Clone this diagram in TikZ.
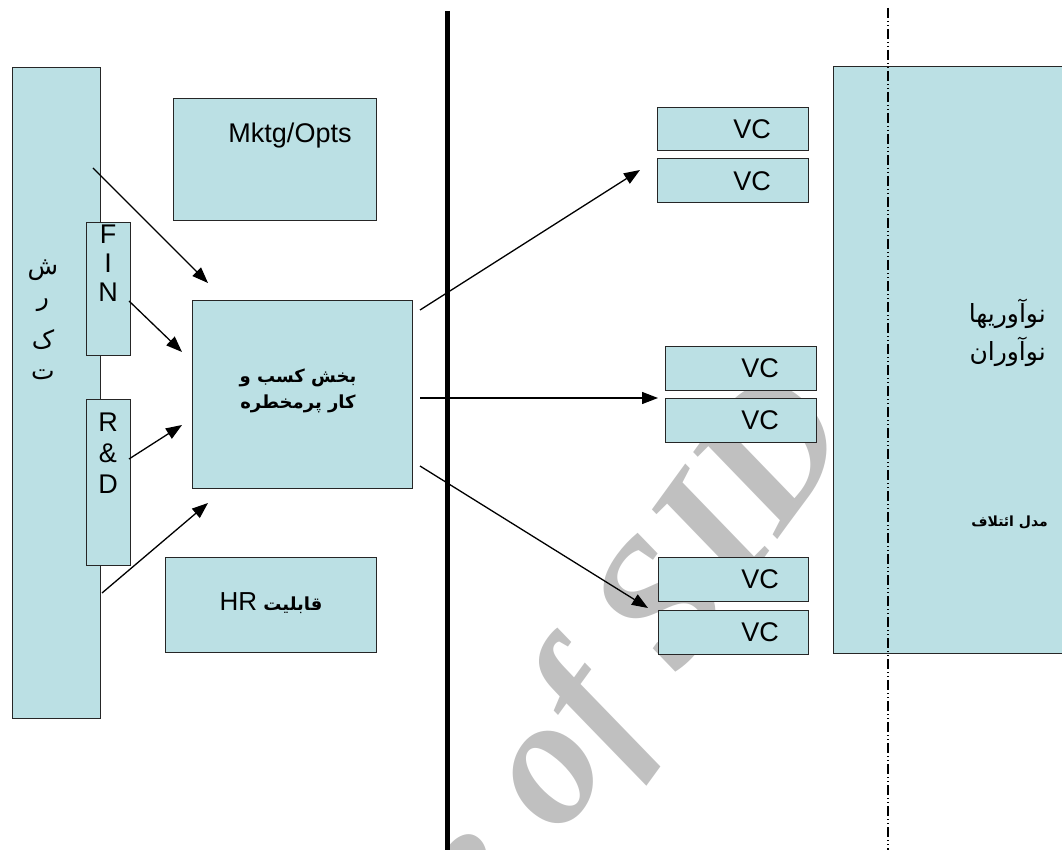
\documentclass[tikz,border=0pt]{standalone}
\usepackage{fontspec}
\setmainfont{Liberation Sans}
\newfontfamily\arabicfont[Script=Arabic]{DejaVu Sans}
\newfontfamily\markfont{Liberation Serif}
\TeXXeTstate=1
\usetikzlibrary{arrows.meta}
\definecolor{boxfill}{RGB}{187,224,228}
\definecolor{markgray}{RGB}{192,192,192}

\begin{document}
\begin{tikzpicture}[x=1pt,y=-1pt,
  blk/.style={draw=black!85, line width=1.4pt, fill=boxfill, inner sep=0pt, anchor=north west},
  link/.style={line width=1.3pt, -{Triangle[length=16pt,width=12pt]}},
  lbl/.style={font=\fontsize{27}{31}\selectfont, inner sep=0pt},
  arab/.style={font=\arabicfont\fontsize{25}{29}\selectfont, inner sep=0pt},
  arabb/.style={font=\arabicfont\bfseries\fontsize{18}{22}\selectfont, inner sep=0pt},
  divider/.style={line width=5pt},
  guide/.style={line width=1.6pt, dash pattern=on 10pt off 3pt on 1pt off 3pt on 1pt off 3pt}
]
\useasboundingbox (0,0) rectangle (1062,850);

% faint stamp in the background
\node[rotate=54, anchor=base east, inner sep=0pt, text=markgray,
      font=\markfont\bfseries\itshape\fontsize{182}{182}\selectfont] (stamp) at (856,432) {Archive of SID};

% firm column and its units
\node[blk, minimum width=88, minimum height=651] (firm) at (12,67) {};
\node[arab] (firm1) at (43,270) {ش};
\node[arab] (firm2) at (43,305) {ر};
\node[arab] (firm3) at (43,340) {ک};
\node[arab] (firm4) at (43,375) {ت};

\node[blk, minimum width=44, minimum height=133] (fin) at (86,222) {};
\node[lbl] (fin1) at (108,234) {F};
\node[lbl] (fin2) at (108,263) {I};
\node[lbl] (fin3) at (108,292) {N};

\node[blk, minimum width=44, minimum height=166] (rnd) at (86,399) {};
\node[lbl] (rnd1) at (108,422) {R};
\node[lbl] (rnd2) at (108,453) {\&};
\node[lbl] (rnd3) at (108,484) {D};

\node[blk, minimum width=203, minimum height=122] (mktg) at (173,98) {};
\node[lbl] (mktgt) at (290,136) {Mktg/Opts};

\node[blk, minimum width=220, minimum height=188] (core) at (192,300) {};
\node[arabb] (core1) at (298,378) {\beginR بخش کسب و\endR};
\node[arabb] (core2) at (298,404) {\beginR کار پرمخطره\endR};

\node[blk, minimum width=211, minimum height=95] (hr) at (165,557) {};
\node[arabb] (hrt) at (271,603) {\beginR قابلیت \beginL\fontspec{Liberation Sans}\mdseries\fontsize{26}{30}\selectfont HR\endL\endR};

% dividing line
\coordinate (divtop) at (447,11);
\coordinate (divbot) at (447,852);
\draw[divider] (divtop) -- (divbot);

% venture capital boxes
\node[blk, minimum width=151, minimum height=43] (vc1) at (657,107) {};
\node[lbl] (vc1t) at (752,129) {VC};
\node[blk, minimum width=151, minimum height=44] (vc2) at (657,158) {};
\node[lbl] (vc2t) at (752,181) {VC};
\node[blk, minimum width=151, minimum height=44] (vc3) at (665,346) {};
\node[lbl] (vc3t) at (760,368) {VC};
\node[blk, minimum width=151, minimum height=44] (vc4) at (665,398) {};
\node[lbl] (vc4t) at (760,420) {VC};
\node[blk, minimum width=150, minimum height=44] (vc5) at (658,557) {};
\node[lbl] (vc5t) at (760,579) {VC};
\node[blk, minimum width=150, minimum height=44] (vc6) at (658,610) {};
\node[lbl] (vc6t) at (760,632) {VC};

% innovators block
\node[blk, minimum width=240, minimum height=587] (innov) at (833,66) {};
\node[arab, anchor=east] (innov1) at (1046,314) {\beginR نوآوریها\endR};
\node[arab, anchor=east] (innov2) at (1046,352) {\beginR نوآوران\endR};
\node[arabb, anchor=east, font=\arabicfont\bfseries\fontsize{14}{18}\selectfont] (innov3) at (1048,522) {\beginR مدل ائتلاف\endR};

\coordinate (guidetop) at (888,8);
\coordinate (guidebot) at (888,852);
\draw[guide] (guidetop) -- (guidebot);

% flows into the venture unit
\coordinate (a1s) at (93,168);
\coordinate (a1e) at (208,283);
\coordinate (a2s) at (129,301);
\coordinate (a2e) at (182,352);
\coordinate (a3s) at (129,459);
\coordinate (a3e) at (182,425);
\coordinate (a4s) at (102,593);
\coordinate (a4e) at (208,503);
\draw[link] (a1s) -- (a1e);
\draw[link] (a2s) -- (a2e);
\draw[link] (a3s) -- (a3e);
\draw[link] (a4s) -- (a4e);

% flows out to the VC pairs
\coordinate (b1s) at (420,310);
\coordinate (b1e) at (640,170);
\coordinate (b2s) at (420,398);
\coordinate (b2e) at (658,398);
\coordinate (b3s) at (420,466);
\coordinate (b3e) at (648,608);
\draw[link] (b1s) -- (b1e);
\draw[link] (b2s) -- (b2e);
\draw[link] (b3s) -- (b3e);
\end{tikzpicture}
\end{document}
